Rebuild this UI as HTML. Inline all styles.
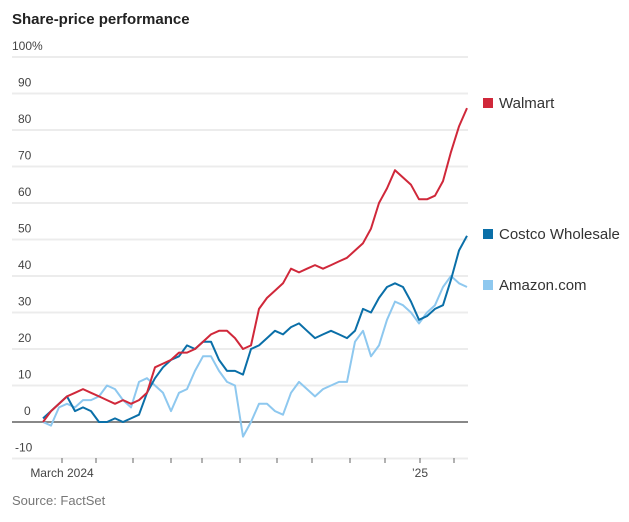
<!DOCTYPE html>
<html><head><meta charset="utf-8"><style>
body{margin:0;background:#fff;width:629px;height:517px;overflow:hidden;font-family:"Liberation Sans",sans-serif}
svg text{font-family:"Liberation Sans",sans-serif}
</style></head><body>
<svg id="chart" width="629" height="517" xmlns="http://www.w3.org/2000/svg">
<text x="12" y="24" font-size="15" font-weight="bold" fill="#222">Share-price performance</text>
<g id="grid"></g><g id="xaxis"></g><g id="lines"></g><g id="legend"></g>
<text x="12" y="505" font-size="13" fill="#777">Source: FactSet</text>
</svg>
<script>
const yTicks=[100,90,80,70,60,50,40,30,20,10,0,-10];
const xTickLabels=["March 2024","","","","","","","","","","’25",""];
const walmart=[0,3,5,7,8,9,8,7,6,5,6,5,6,8,15,16,17,19,19,20,22,24,25,25,23,20,21,31,34,36,38,42,41,42,43,42,43,44,45,47,49,53,60,64,69,67,65,61,61,62,66,74,81,86];
const costco=[1,3,5,7,3,4,3,0,0,1,0,1,2,8,12,15,17,18,21,20,22,22,17,14,14,13,20,21,23,25,24,26,27,25,23,24,25,24,23,25,31,30,34,37,38,37,33,28,29,31,32,39,47,51];
const amazon=[0,-1,4,5,4,6,6,7,10,9,6,4,11,12,10,8,3,8,9,14,18,18,14,11,10,-4,0,5,5,3,2,8,11,9,7,9,10,11,11,22,25,18,21,28,33,32,30,27,30,32,37,40,38,37];
const seriesNames=["Walmart","Costco Wholesale","Amazon.com"];
const colors=["#d0283a","#0a6fa8","#8ec8ef"];
const NS="http://www.w3.org/2000/svg";
const y=v=>422-v*3.65;
const x=i=>43+i*(424/(walmart.length-1));
function mk(t,a,p){const e=document.createElementNS(NS,t);for(const k in a)e.setAttribute(k,a[k]);p.appendChild(e);return e;}
const grid=document.getElementById('grid');
yTicks.forEach(v=>{
  const l=mk('line',{x1:12,x2:468,y1:y(v),y2:y(v),stroke:v===0?'#888':'#ececec','stroke-width':v===0?2:2},grid);
  
  
  const t=mk('text',{x:v===100?12:(v<0?15:v===0?24:18),y:y(v)-7,'font-size':12,fill:'#444'},grid);
  t.textContent=v===100?'100%':String(v);
  
  
});
const xa=document.getElementById('xaxis');
const tickX=[62,96,133,171,202,240,277,312,350,385,420,454];
xTickLabels.forEach((lab,k)=>{
  const tl=mk('line',{x1:tickX[k],x2:tickX[k],y1:458,y2:463,stroke:'#666','stroke-width':1},xa);
  
  
  if(lab){const t=mk('text',{x:tickX[k],y:477,'font-size':12,fill:'#444','text-anchor':'middle'},xa);t.textContent=lab;
  
  }
});
const lines=document.getElementById('lines');
[amazon,costco,walmart].forEach((d,j)=>{
  const idx=2-j;
  const p=mk('path',{d:d.map((v,i)=>(i?'L':'M')+x(i).toFixed(1)+','+y(v).toFixed(1)).join(''),fill:'none',stroke:colors[idx],'stroke-width':2,'stroke-linejoin':'round'},lines);
  
  
});
const lg=document.getElementById('legend');
const lgY=[103,234,285];
seriesNames.forEach((n,i)=>{
  const r=mk('rect',{x:483,y:lgY[i]-5,width:10,height:10,fill:colors[i]},lg);
  
  
  const t=mk('text',{x:499,y:lgY[i]+5,'font-size':15,fill:'#333'},lg);t.textContent=n;
  
  
});
</script>
</body></html>
